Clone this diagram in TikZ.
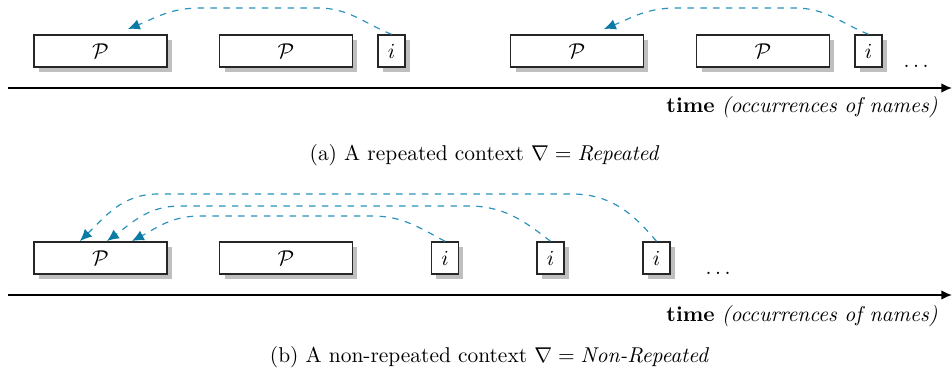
\documentclass[tikz,border=0pt]{standalone}
\usepackage{amsmath,amssymb}
\usepackage{tikz}
\usetikzlibrary{arrows.meta,shadows}
\usepackage{xcolor}
\definecolor{linkblue}{HTML}{2A92BC}
\definecolor{tipblue}{HTML}{0B7BA5}
\definecolor{shadowgray}{HTML}{BFBFBF}
\tikzset{
  slot/.style={draw=black!85, line width=0.6pt, fill=white, inner sep=0pt, minimum height=15pt,
    drop shadow={shadow xshift=2.3pt, shadow yshift=-2.3pt, fill=shadowgray, opacity=1}},
  pslot/.style={slot, minimum width=62pt},
  islot/.style={slot, minimum width=12.6pt},
  timeline/.style={-{Latex[length=5pt,width=4.5pt]}, line width=0.8pt},
  backref/.style={-{Latex[length=5.5pt,width=5pt,color=tipblue]}, line width=0.55pt, draw=linkblue, dashed},
  caption/.style={inner sep=0pt}
}

\begin{document}
\begin{tikzpicture}[x=0.0164cm, y=0.0164cm]
  \useasboundingbox (0,0) rectangle (952,379);

  % (a) repeated
  \node[pslot] (pA1) at (100.5,328) {$\mathcal{P}$};
  \node[pslot] (pA2) at (286,328) {$\mathcal{P}$};
  \node[islot] (iA1) at (391.5,328) {$i$};
  \node[pslot] (pA3) at (577,328) {$\mathcal{P}$};
  \node[pslot] (pA4) at (763,328) {$\mathcal{P}$};
  \node[islot] (iA2) at (868.5,328) {$i$};
  \node[anchor=base, inner sep=0pt] (dotsA) at (918,311) {$\dots$};

  \coordinate (tA1) at (128,350);
  \coordinate (tA2) at (604,350);
  \draw[backref] (iA1.north) to[out=158,in=0] (318,371) -- (200,371) to[out=180,in=22] (tA1);
  \draw[backref] (iA2.north) to[out=158,in=0] (795,371) -- (676,371) to[out=180,in=22] (tA2);

  \coordinate (axA0) at (8,291);
  \coordinate (axA1) at (952,291);
  \draw[timeline] (axA0) -- (axA1);
  \node[caption, anchor=east] (timeA) at (938,272) {\textbf{time} \textit{(occurrences of names)}};
  \node[caption] (capA) at (484,224) {(a) A repeated context $\nabla = \textit{Repeated}$};

  % (b) non-repeated
  \node[pslot] (pB1) at (100.5,121) {$\mathcal{P}$};
  \node[pslot] (pB2) at (286,121) {$\mathcal{P}$};
  \node[islot] (iB1) at (445,121) {$i$};
  \node[islot] (iB2) at (550.5,121) {$i$};
  \node[islot] (iB3) at (656.5,121) {$i$};
  \node[anchor=base, inner sep=0pt] (dotsB) at (720,104) {$\dots$};

  \coordinate (tB1) at (132,138);
  \coordinate (tB2) at (107,138);
  \coordinate (tB3) at (80,138);
  \draw[backref] (iB1.north) to[out=152,in=0] (372,163) -- (200,163) to[out=180,in=28] (tB1);
  \draw[backref] (iB2.north) to[out=142,in=0] (468,173) -- (180,173) to[out=180,in=36] (tB2);
  \draw[backref] (iB3.north) to[out=130,in=0] (572,185) -- (158,185) to[out=180,in=44] (tB3);

  \coordinate (axB0) at (8,84);
  \coordinate (axB1) at (952,84);
  \draw[timeline] (axB0) -- (axB1);
  \node[caption, anchor=east] (timeB) at (938,63) {\textbf{time} \textit{(occurrences of names)}};
  \node[caption] (capB) at (489,22) {(b) A non-repeated context $\nabla = \textit{Non-Repeated}$};
\end{tikzpicture}
\end{document}
